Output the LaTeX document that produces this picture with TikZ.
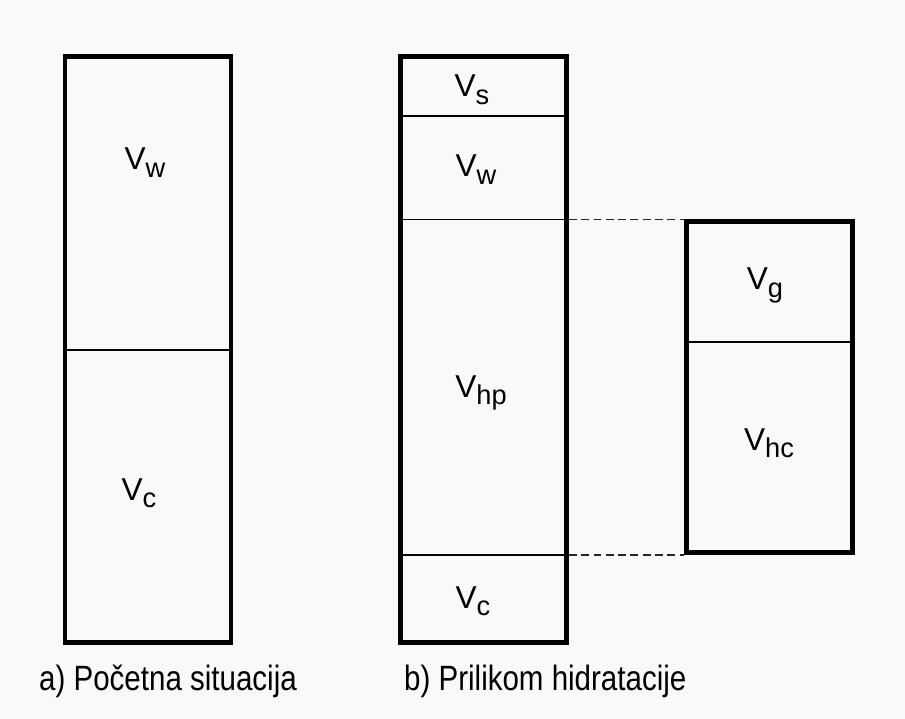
\documentclass[tikz,border=0pt]{standalone}
\usepackage{fontspec}
\setmainfont{Liberation Sans}
\newfontfamily\capfont[FakeStretch=0.84]{Liberation Sans}
\newcommand{\volsub}[2]{#1\raisebox{-4.5pt}{\fontsize{15.5}{16}\selectfont #2}}
\definecolor{bggray}{RGB}{248,249,250}
\begin{document}
\begin{tikzpicture}[x=0.02cm,y=-0.02cm]
\tikzset{column/.style = {draw, line width=2.6pt, inner sep=0pt, minimum width=3.32cm},
  divider/.style = {line width=1pt},
  link/.style = {line width=1pt, dash pattern=on 4.5pt off 2.5pt, black!85},
  vol/.style = {anchor=base, font=\fontsize{18}{20}\selectfont},
  caption/.style = {anchor=base west, font=\capfont\fontsize{20}{22}\selectfont}}
\fill[bggray] (0,0) rectangle (905,719);
\node[column,minimum height=11.72cm] (a) at (148,349.5) {};
\node[column,minimum height=11.72cm] (b) at (483.7,349.5) {};
\node[column,minimum height=6.62cm] (c) at (769.7,387.2) {};
\draw[divider] (a.west |- 0,350) -- (a.east |- 0,350);
\draw[divider] (b.west |- 0,116) -- (b.east |- 0,116);
\draw[divider] (b.west |- c.north) -- (b.east |- c.north);
\draw[divider] (b.west |- c.south) -- (b.east |- c.south);
\draw[divider] (c.west |- 0,342.3) -- (c.east |- 0,342.3);
\draw[link] (b.east |- c.north) -- (c.north west);
\draw[link] (b.east |- c.south) -- (c.south west);
\node[vol] (vwa) at (145,170) {\volsub{V}{w}};
\node[vol] (vca) at (139,500) {\volsub{V}{c}};
\node[vol] (vs) at (472,97) {\volsub{V}{s}};
\node[vol] (vwb) at (476,177) {\volsub{V}{w}};
\node[vol] (vhp) at (481,397) {\volsub{V}{hp}};
\node[vol] (vcb) at (473,608) {\volsub{V}{c}};
\node[vol] (vg) at (765,290) {\volsub{V}{g}};
\node[vol] (vhc) at (769,450) {\volsub{V}{hc}};
\node[caption] (capa) at (33,690) {a) Početna situacija};
\node[caption] (capb) at (398,690) {b) Prilikom hidratacije};
\end{tikzpicture}
\end{document}
